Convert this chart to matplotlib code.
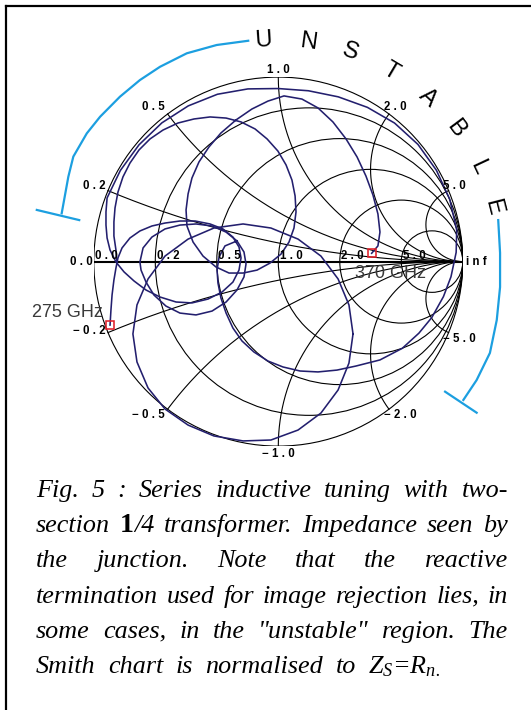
import matplotlib
matplotlib.use("Agg")
import matplotlib.pyplot as plt
import numpy as np
from matplotlib.lines import Line2D
from matplotlib.patches import Circle

W, H, DPI = 531, 710, 100
PT = 72 / DPI  # points per pixel

NAVY = "#231f6e"
CYAN = "#1c9fe0"
RED = "#e0202a"
GRID_LW = 0.8
SANS = "Liberation Sans"
SERIF = "Liberation Serif"

plt.rcParams["mathtext.fontset"] = "custom"
plt.rcParams["mathtext.it"] = "Liberation Serif:italic"
plt.rcParams["mathtext.rm"] = "Liberation Serif:italic"

# Smith chart grid
R_GRID = [0.0, 0.2, 0.5, 1.0, 2.0, 5.0]
R_LABELS = ["0.0", "0.2", "0.5", "1.0", "2.0", "5.0"]
X_GRID = [0.2, 0.5, 1.0, 2.0, 5.0]
X_LABELS = ["0.2", "0.5", "1.0", "2.0", "5.0"]

# impedance seen by the junction as reflection coefficient (re, im), 275 -> 370 GHz
sweep_a_re = [-0.912, -0.907, -0.901, -0.891, -0.880, -0.869, -0.847, -0.804, -0.750, -0.685,
              -0.614, -0.533, -0.451, -0.370, -0.300, -0.246, -0.213, -0.202, -0.213, -0.246,
              -0.305, -0.381, -0.468, -0.554, -0.641, -0.717, -0.782, -0.836, -0.880, -0.912,
              -0.928, -0.934, -0.934, -0.928, -0.856, -0.755, -0.631, -0.488, -0.330, -0.165,
              0.000, 0.163, 0.325, 0.483, 0.630, 0.757, 0.857, 0.929, 0.967, 0.964,
              0.936, 0.895, 0.832, 0.762, 0.672, 0.551, 0.421, 0.318, 0.215, 0.118,
              0.025, -0.056, -0.132, -0.197, -0.246, -0.283, -0.311, -0.327, -0.332, -0.321,
              -0.289, -0.224]
sweep_a_im = [-0.344, -0.262, -0.181, -0.100, -0.035, 0.020, 0.074, 0.128, 0.166, 0.193,
              0.209, 0.220, 0.220, 0.204, 0.177, 0.133, 0.079, 0.020, -0.046, -0.111,
              -0.165, -0.203, -0.224, -0.219, -0.192, -0.154, -0.105, -0.056, -0.002, 0.063,
              0.128, 0.198, 0.269, 0.345, 0.494, 0.633, 0.752, 0.844, 0.907, 0.936,
              0.938, 0.926, 0.893, 0.836, 0.751, 0.635, 0.495, 0.338, 0.171, 0.050,
              -0.082, -0.190, -0.303, -0.388, -0.470, -0.533, -0.566, -0.588, -0.598, -0.593,
              -0.571, -0.539, -0.490, -0.430, -0.360, -0.279, -0.197, -0.116, -0.046, 0.025,
              0.085, 0.112]

sweep_b_re = [0.405, 0.383, 0.324, 0.231, 0.107, -0.040, -0.191, -0.349, -0.489, -0.614,
              -0.706, -0.766, -0.788, -0.766, -0.706, -0.614, -0.489, -0.349, -0.191, -0.040,
              0.107, 0.231, 0.324, 0.383, 0.405]
sweep_b_im = [-0.392, -0.235, -0.094, 0.030, 0.122, 0.182, 0.204, 0.182, 0.122, 0.030,
              -0.094, -0.235, -0.392, -0.544, -0.685, -0.799, -0.886, -0.945, -0.972, -0.967,
              -0.913, -0.821, -0.696, -0.550, -0.392]

sweep_c_re = [-0.224, -0.186, -0.175, -0.186, -0.224, -0.283, -0.359, -0.446, -0.533, -0.609,
              -0.674, -0.717, -0.744, -0.750, -0.733, -0.685, -0.614, -0.533, -0.446, -0.359,
              -0.283, -0.224]
sweep_c_im = [0.112, 0.052, -0.013, -0.083, -0.154, -0.219, -0.268, -0.289, -0.279, -0.241,
              -0.181, -0.111, -0.046, -0.002, 0.074, 0.133, 0.177, 0.198, 0.204, 0.193,
              0.160, 0.112]

sweep_d_re = [-0.874, -0.880, -0.891, -0.891, -0.885, -0.869, -0.842, -0.804, -0.755, -0.695,
              -0.625, -0.544, -0.457, -0.370, -0.283, -0.202, -0.126, -0.061, -0.002, 0.042,
              0.074, 0.091, 0.096, 0.085, 0.058, 0.015, -0.045, -0.115, -0.191, -0.267,
              -0.338, -0.408, -0.462, -0.495, -0.500, -0.489, -0.468, -0.430, -0.376, -0.311,
              -0.229, -0.143, -0.056, 0.031, 0.128, 0.215, 0.296, 0.367, 0.427, 0.475,
              0.513, 0.540, 0.551, 0.540, 0.506]
sweep_d_im = [-0.002, 0.063, 0.139, 0.215, 0.291, 0.377, 0.459, 0.534, 0.605, 0.665,
              0.713, 0.751, 0.773, 0.784, 0.778, 0.757, 0.719, 0.665, 0.599, 0.524,
              0.442, 0.356, 0.269, 0.182, 0.106, 0.041, -0.008, -0.046, -0.062, -0.062,
              -0.029, 0.030, 0.106, 0.193, 0.280, 0.367, 0.453, 0.540, 0.621, 0.697,
              0.768, 0.827, 0.870, 0.898, 0.881, 0.833, 0.757, 0.665, 0.567, 0.464,
              0.361, 0.258, 0.160, 0.085, 0.045]

marker_re = [-0.912, 0.506]
marker_im = [-0.344, 0.045]
marker_text = ["275 GHz", "370 GHz"]

# "unstable" region bracket
bracket_left_re = [-0.163, -0.334, -0.496, -0.641, -0.750, -0.858, -0.966, -1.038, -1.111, -1.138, -1.174]
bracket_left_im = [1.197, 1.174, 1.129, 1.056, 0.984, 0.894, 0.785, 0.695, 0.569, 0.460, 0.262]
tick_left_re = [-1.309, -1.079]
tick_left_im = [0.280, 0.225]
bracket_right_re = [1.192, 1.202, 1.202, 1.184, 1.147, 1.075, 1.003]
bracket_right_im = [0.225, 0.047, -0.138, -0.317, -0.495, -0.642, -0.750]
tick_right_re = [0.904, 1.075]
tick_right_im = [-0.705, -0.819]

unstable_letters = list("UNSTABLE")
unstable_angles = [94.0, 82.2, 70.9, 59.4, 47.5, 36.8, 25.2, 14.2]
UNSTABLE_R = 1.20

caption_lines = [
    "Fig. 5 : Series inductive tuning with two-",
    "section 1/4 transformer. Impedance seen by",
    "the junction. Note that the reactive",
    "termination used for image rejection lies, in",
    'some cases, in the "unstable" region. The',
    r"Smith chart is normalised to $Z_{S}$=$R_{n.}$",
]


def spaced(s):
    return " ".join(s.replace("-", "\u2212"))


fig = plt.figure(figsize=(W / DPI, H / DPI), dpi=DPI)
fig.patch.set_facecolor("white")

# frame (top and left edges)
fig.add_artist(Line2D([5.5 / W, 1.0], [1 - 6 / H, 1 - 6 / H], color="black", lw=2.2 * PT))
fig.add_artist(Line2D([5.5 / W, 5.5 / W], [0.0, 1 - 6 / H], color="black", lw=2.2 * PT))

cx, cy, rad = 278.3, 261.6, 184.5
ax = fig.add_axes([(cx - rad) / W, 1 - (cy + rad) / H, 2 * rad / W, 2 * rad / H])
ax.set_xlim(-1, 1)
ax.set_ylim(-1, 1)
ax.axis("off")

# constant resistance circles
for rv in R_GRID:
    ax.add_patch(Circle((rv / (1 + rv), 0), 1 / (1 + rv), fill=False, ec="black", lw=GRID_LW))
# constant reactance arcs
rr = np.concatenate([np.linspace(0, 1, 400), np.geomspace(1, 5000, 600)])
for xv in X_GRID:
    for sgn in (1, -1):
        z = rr + 1j * sgn * xv
        g = (z - 1) / (z + 1)
        ax.plot(g.real, g.imag, color="black", lw=GRID_LW)
ax.plot([-1, 1], [0, 0], color="black", lw=1.5)

lab_kw = dict(family=SANS, fontsize=8.3, fontweight="bold", color="black")
for rv, lab in zip(R_GRID, R_LABELS):
    ax.annotate(spaced(lab), ((rv - 1) / (rv + 1), 0), xytext=(1.5 * PT, 2.5 * PT),
                textcoords="offset points", ha="left", va="baseline", **lab_kw)
ax.annotate(spaced("0.0"), (-1, 0), xytext=(-1 * PT, 0), textcoords="offset points",
            ha="right", va="center", annotation_clip=False, **lab_kw)
ax.annotate("i n f", (1, 0), xytext=(3 * PT, 0), textcoords="offset points",
            ha="left", va="center", annotation_clip=False, **lab_kw)

x_pos_style = [("right", "baseline", -2, 2), ("right", "baseline", -3, 3.5), ("center", "baseline", 0, 4),
               ("left", "baseline", -5, 3.5), ("left", "baseline", -6, 2)]
x_neg_style = [("right", "center", -2, 2), ("right", "top", -3, 0), ("center", "top", 0, -2),
               ("left", "top", -5, 0), ("left", "top", -6, 0)]
for xv, lab, sp, sn in zip(X_GRID, X_LABELS, x_pos_style, x_neg_style):
    gr = (xv ** 2 - 1) / (xv ** 2 + 1)
    gi = 2 * xv / (xv ** 2 + 1)
    for sign, lb, (ha, va, dx, dy) in ((1, lab, sp), (-1, "-" + lab, sn)):
        ax.annotate(spaced(lb), (gr, sign * gi), xytext=(dx * PT, dy * PT), textcoords="offset points",
                    ha=ha, va=va, annotation_clip=False, **lab_kw)

# impedance loci
for re_, im_ in ((sweep_a_re, sweep_a_im), (sweep_b_re, sweep_b_im),
                 (sweep_c_re, sweep_c_im), (sweep_d_re, sweep_d_im)):
    ax.plot(re_, im_, color=NAVY, lw=1.15, solid_joinstyle="round", clip_on=False)

ax.plot(marker_re, marker_im, ls="none", marker="s", ms=7.5 * PT, mfc="none", mec=RED, mew=1.6 * PT)
ax.annotate(marker_text[0], (marker_re[0], marker_im[0]), xytext=(-7 * PT, 13 * PT),
            textcoords="offset points", ha="right", va="center", family=SANS, fontsize=13,
            color="#3a3a3a", annotation_clip=False)
ax.annotate(marker_text[1], (marker_re[1], marker_im[1]), xytext=(-16.5 * PT, -20 * PT),
            textcoords="offset points", ha="left", va="center", family=SANS, fontsize=13,
            color="#3a3a3a", annotation_clip=False)

# unstable region bracket and lettering
for re_, im_ in ((bracket_left_re, bracket_left_im), (tick_left_re, tick_left_im),
                 (bracket_right_re, bracket_right_im), (tick_right_re, tick_right_im)):
    ax.plot(re_, im_, color=CYAN, lw=1.6, clip_on=False)
for ch, ang in zip(unstable_letters, unstable_angles):
    a = np.deg2rad(ang)
    ax.text(UNSTABLE_R * np.cos(a), UNSTABLE_R * np.sin(a), ch, rotation=ang - 90,
            rotation_mode="anchor", ha="center", va="center", family=SANS, fontsize=17,
            color="black", clip_on=False)

# caption, word gaps stretched to the right margin (last line ends short)
cap_kw = dict(family=SERIF, fontstyle="italic", fontsize=18.8, color="black")
x_left = 36.0
line_ends = [508.0, 508.0, 508.0, 508.0, 508.0, 440.0]
base0, step = 496.7, 35.3
renderer = fig.canvas.get_renderer()
for i, (line, x_right) in enumerate(zip(caption_lines, line_ends)):
    yb = 1 - (base0 + i * step) / H
    words = line.split(" ") if "$" not in line else line.split(" ", 5)
    parts = []
    for w in words:
        if w == "1/4":
            t1 = fig.text(0, yb, "1", family=SERIF, fontweight="bold", fontsize=20, va="baseline")
            t2 = fig.text(0, yb, "/4", va="baseline", **cap_kw)
            parts.append([t1, t2])
        else:
            parts.append([fig.text(0, yb, w, va="baseline", **cap_kw)])
    widths = [sum(t.get_window_extent(renderer).width for t in p) for p in parts]
    gap = (x_right - x_left - sum(widths)) / (len(parts) - 1)
    x = x_left
    for p, wd in zip(parts, widths):
        xx = x
        for t in p:
            t.set_x(xx / W)
            xx += t.get_window_extent(renderer).width
        x += wd + gap

fig.savefig("out.png", dpi=DPI, facecolor="white")
